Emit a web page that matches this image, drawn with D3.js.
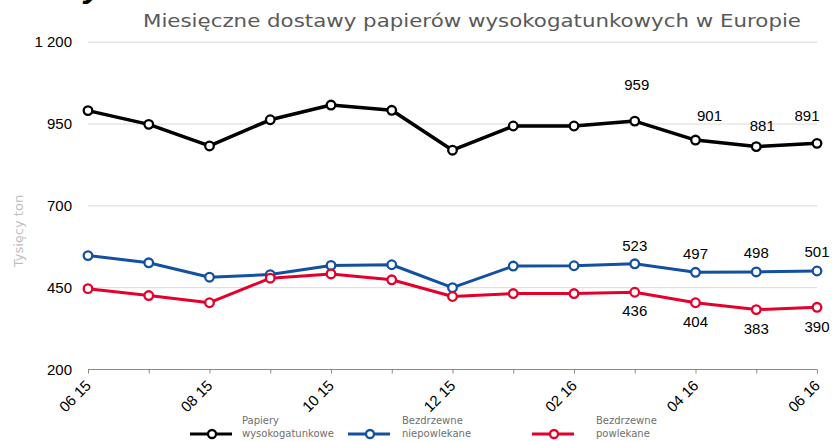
<!DOCTYPE html>
<html><head><meta charset="utf-8">
<script src="https://cdn.jsdelivr.net/npm/d3@7"></script>
<style>body{margin:0;background:#fff}svg{display:block}</style>
</head><body>
<svg id="c" width="834" height="441"></svg>
<script>
const months = ["06 15","07 15","08 15","09 15","10 15","11 15","12 15","01 16","02 16","03 16","04 16","05 16","06 16"];
const shownTicks = ["06 15","08 15","10 15","12 15","02 16","04 16","06 16"];
const yTicks = [200, 450, 700, 950, 1200];
const seriesNames = ["Papiery wysokogatunkowe","Bezdrzewne niepowlekane","Bezdrzewne powlekane"];
const totalVals = [991, 949, 883, 963, 1008, 992, 870, 944, 944, 959, 901, 881, 891];
const uncoatedVals = [548, 526, 482, 490, 518, 520, 450, 516, 517, 523, 497, 498, 501];
const coatedVals = [447, 426, 404, 479, 492, 474, 423, 432, 432, 436, 404, 383, 390];
const labelFrom = 9;
const title = "Miesięczne dostawy papierów wysokogatunkowych w Europie";
const yTitle = "Tysięcy ton";

const svg = d3.select("#c");
const x = d3.scalePoint().domain(months).range([88, 817]);
const y = d3.scaleLinear().domain([200, 1200]).range([369.5, 42.2]);
const fmt = v => d3.format(",")(v).replace(/,/g, " ");

// cut-off heading glyph at top-left (partly outside the picture, as in the original)
svg.append("text").attr("x", 84).attr("y", -3).attr("font-family","Liberation Sans")
  .attr("font-weight","bold").attr("font-style","italic").attr("font-size",34).attr("fill","#000").text("y");

svg.append("text").attr("x", 472).attr("y", 27).attr("text-anchor","middle")
  .attr("font-family","DejaVu Sans").attr("font-size",17).attr("fill","#595959")
  .attr("textLength",658).attr("lengthAdjust","spacingAndGlyphs").text(title);

// gridlines
svg.append("g").selectAll("line").data(yTicks.filter(t => t !== 200)).join("line")
  .attr("x1", 88).attr("x2", 817).attr("y1", d => y(d)).attr("y2", d => y(d))
  .attr("stroke","#d9d9d9").attr("stroke-width",1);

// y tick labels
svg.append("g").selectAll("text").data(yTicks).join("text")
  .attr("x", 72).attr("y", d => y(d) + 5).attr("text-anchor","end")
  .attr("font-family","Liberation Sans").attr("font-size",15).attr("fill","#000")
  .text(d => fmt(d));

svg.append("text").attr("transform","translate(23,231) rotate(-90)").attr("text-anchor","middle")
  .attr("font-family","DejaVu Sans").attr("font-size",13).attr("fill","#bfbfbf").text(yTitle);

// x axis
const xa = svg.append("g").attr("transform", `translate(0,${y(200)})`)
  .call(d3.axisBottom(x).tickSize(4).tickFormat(""));
xa.select(".domain").attr("stroke","#898989").attr("d", `M88,0H817`);
xa.selectAll(".tick line").attr("stroke","#898989");
svg.append("g").selectAll("text").data(shownTicks).join("text")
  .attr("transform", d => `translate(${x(d) + 4},${y(200) + 17}) rotate(-45)`)
  .attr("text-anchor","end").attr("font-family","Liberation Sans").attr("font-size",15).attr("fill","#000")
  .text(d => d);

const series = [
  {vals: totalVals, color: "#000000", w: 3.5},
  {vals: uncoatedVals, color: "#1450a0", w: 3},
  {vals: coatedVals, color: "#e4002b", w: 3}
];
const line = d3.line().x((d,i) => x(months[i])).y(d => y(d));
series.forEach(s => {
  svg.append("path").datum(s.vals).attr("d", line).attr("fill","none")
    .attr("stroke", s.color).attr("stroke-width", s.w).attr("stroke-linejoin","round");
  svg.append("g").selectAll("circle").data(s.vals).join("circle")
    .attr("cx", (d,i) => x(months[i])).attr("cy", d => y(d)).attr("r", 4.3)
    .attr("fill","#fff").attr("stroke", s.color).attr("stroke-width", 2.3);
});

// data labels (offsets relative to point)
const labelOffsets = [
  [[2,-37],[14,-25],[6,-21],[-10,-28]],
  [[0,-18],[0,-19],[0,-19],[0,-19]],
  [[0,18],[0,19],[0,19],[0,19]]
];
series.forEach((s, si) => {
  s.vals.forEach((v, i) => {
    if (i < labelFrom) return;
    const o = labelOffsets[si][i - labelFrom];
    svg.append("text").attr("x", x(months[i]) + o[0]).attr("y", y(v) + o[1] + 5.5)
      .attr("text-anchor","middle").attr("font-family","Liberation Sans").attr("font-size",15)
      .attr("fill","#000").text(v);
  });
});

// legend
const legX = [190, 348, 532];
const legY = 434;
seriesNames.forEach((n, i) => {
  const g = svg.append("g").attr("transform", `translate(${legX[i]},${legY})`);
  g.append("line").attr("x1",0).attr("x2",42).attr("stroke", series[i].color).attr("stroke-width",3);
  g.append("circle").attr("cx",22).attr("r",4).attr("fill","#fff").attr("stroke",series[i].color).attr("stroke-width",2.3);
  const parts = n.split(" ");
  const tx = i === 0 ? 52 : (i === 1 ? 54 : 64);
  const t = g.append("text").attr("font-family","DejaVu Sans").attr("font-size",10)
    .attr("fill","#6f6f6f");
  t.append("tspan").attr("x",tx).attr("y",-10).text(parts[0]);
  t.append("tspan").attr("x",tx).attr("y",3).text(parts[1]);
});
</script>
</body></html>
